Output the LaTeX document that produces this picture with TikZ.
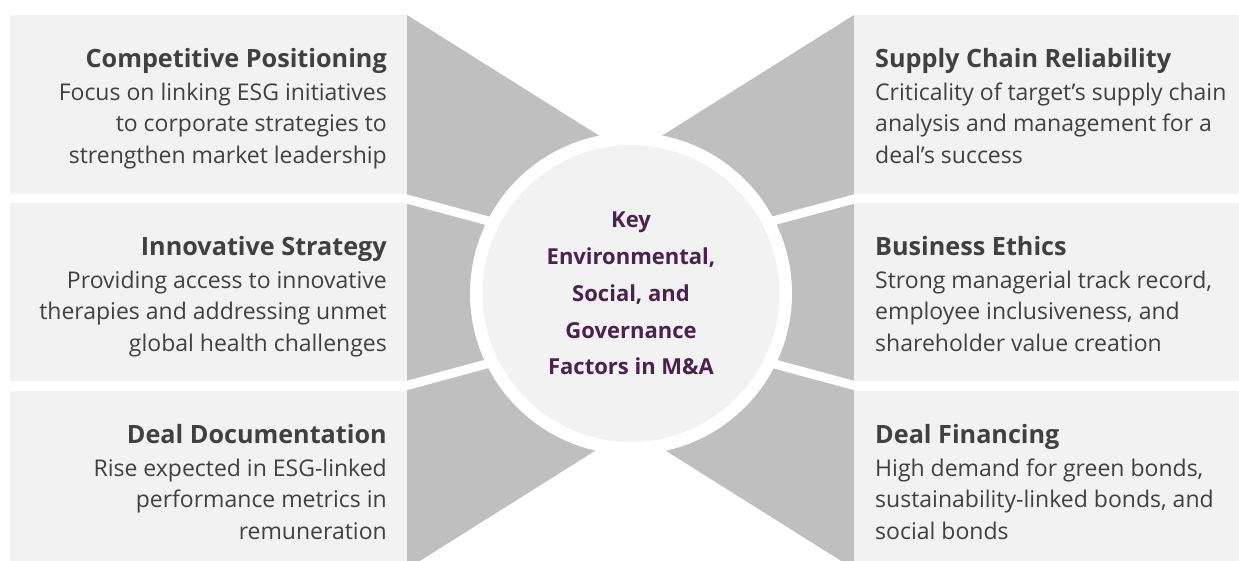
\documentclass[tikz,border=0pt]{standalone}
\usepackage{fontspec}
\setmainfont{Open Sans}
\usepackage{xcolor}
\usepackage{tikz}

\definecolor{panelgray}{HTML}{F2F2F2}
\definecolor{wedgegray}{HTML}{BFBFBF}
\definecolor{textgray}{HTML}{404040}
\definecolor{esgpurple}{HTML}{4B2150}

% titolo in grassetto dei pannelli
\newcommand{\paneltitle}[1]{{\fontsize{25.2}{31.5}\selectfont\bfseries #1}}

\begin{document}
\begin{tikzpicture}[x=1pt, y=-1pt,
    panel/.style={fill=panelgray},
    separator/.style={white, line width=9pt},
    lefttext/.style={anchor=north east, align=right, inner sep=0pt, text=textgray,
      font=\fontsize{23}{31.5}\selectfont},
    righttext/.style={lefttext, anchor=north west, align=left}]
  \useasboundingbox (0,0) rectangle (1239,561);
  \clip (0,0) rectangle (1239,561);

  % Cunei grigi verso il centro
  \fill[wedgegray] (407,15) -- (630.5,155.4) -- (854,15) -- (854,569)
    -- (630.5,428.6) -- (407,569) -- cycle;

  % Pannelli a sinistra
  \fill[panel] (10,15) rectangle (407,194);
  \fill[panel] (10,203) rectangle (407,381);
  \fill[panel] (10,391) rectangle (407,575);

  % Pannelli a destra
  \fill[panel] (854,15) rectangle (1245,194);
  \fill[panel] (854,203) rectangle (1245,381);
  \fill[panel] (854,391) rectangle (1245,575);

  % Linee bianche tra i cunei
  \coordinate (gapL1) at (405,198.5);  \coordinate (tipL1) at (505,225.5);
  \coordinate (gapL2) at (405,386);    \coordinate (tipL2) at (505,359);
  \coordinate (gapR1) at (856,198.5);  \coordinate (tipR1) at (756,225.5);
  \coordinate (gapR2) at (856,386);    \coordinate (tipR2) at (756,359);
  \draw[separator] (gapL1) -- (tipL1);
  \draw[separator] (gapL2) -- (tipL2);
  \draw[separator] (gapR1) -- (tipR1);
  \draw[separator] (gapR2) -- (tipR2);

  % Cerchio centrale
  \node[circle, fill=panelgray, draw=white, line width=12.5pt, minimum size=309.5pt,
    align=center, text=esgpurple, font=\fontsize{22}{36.8}\selectfont\bfseries]
    (hub) at (631,293.5)
    {Key\\Environmental,\\Social, and\\Governance\\Factors in M\&A};

  % Testi a sinistra
  \node[lefttext] (compet) at (387,47.8)
    {\paneltitle{Competitive Positioning}\\[1.5pt]
     Focus on linking ESG initiatives\\ to corporate strategies to\\
     strengthen market leadership};
  \node[lefttext] (innov) at (387,235.8)
    {\paneltitle{Innovative Strategy}\\[1.5pt]
     Providing access to innovative\\ therapies and addressing unmet\\
     global health challenges};
  \node[lefttext] (docs) at (387,423.8)
    {\paneltitle{Deal Documentation}\\[1.5pt]
     Rise expected in ESG-linked\\ performance metrics in\\ remuneration};

  % Testi a destra
  \node[righttext] (supply) at (875,47.8)
    {\paneltitle{Supply Chain Reliability}\\[1.5pt]
     Criticality of target's supply chain\\ analysis and management for a\\
     deal's success};
  \node[righttext] (ethics) at (875,235.8)
    {\paneltitle{Business Ethics}\\[1.5pt]
     Strong managerial track record,\\ employee inclusiveness, and\\
     shareholder value creation};
  \node[righttext] (finance) at (875,423.8)
    {\paneltitle{Deal Financing}\\[1.5pt]
     High demand for green bonds,\\ sustainability-linked bonds, and\\
     social bonds};
\end{tikzpicture}
\end{document}
